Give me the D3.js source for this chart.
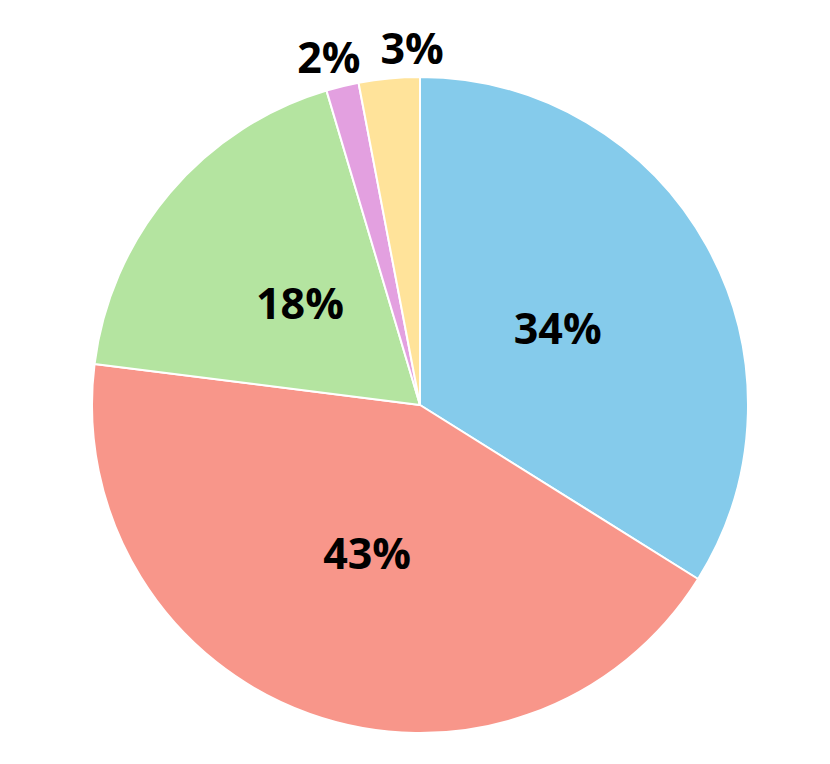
<!DOCTYPE html>
<html>
<head>
<meta charset="utf-8">
<script src="https://cdn.jsdelivr.net/npm/d3@7"></script>
<style>
  body { margin: 0; background: #fff; }
</style>
</head>
<body>
<div class="chart"></div>
<script>
// slices, clockwise from 12 o'clock
const categories = ["Slice A", "Slice B", "Slice C", "Slice D", "Slice E"];
const values = [33.9, 43.1, 18.4, 1.6, 3.0];
const colors = ["#85cbeb", "#f8968a", "#b4e4a0", "#e3a0e0", "#ffe39a"];

const width = 830, height = 764;
const cx = 420, cy = 405, radius = 328;
const fontSize = 43;

const svg = d3.select(".chart").append("svg")
  .attr("width", width)
  .attr("height", height);

const g = svg.append("g").attr("transform", `translate(${cx},${cy})`);

const total = d3.sum(values);
const pie = d3.pie().sort(null).value(d => d);
const arcs = pie(values);
const arc = d3.arc().innerRadius(0).outerRadius(radius);
const labelArc = d3.arc().innerRadius(radius * 0.48).outerRadius(radius * 0.48);
const fmt = d3.format(".0%");

g.selectAll("path.slice").data(arcs).join("path")
  .attr("class", "slice")
  .attr("d", arc)
  .attr("fill", (d, i) => colors[i])
  .attr("stroke", "#fff")
  .attr("stroke-width", 2)
  .attr("stroke-linejoin", "round");

const labels = g.selectAll("text.lbl").data(arcs).join("text")
  .attr("class", "lbl")
  .attr("text-anchor", "middle")
  .style("font-family", "'Open Sans', 'Noto Sans', sans-serif")
  .style("font-weight", 700)
  .style("font-size", fontSize + "px")
  .attr("fill", "#000")
  .text(d => fmt(d.value / total));

const capH = fontSize * 0.72;
const outside = [];
labels.each(function(d) {
  const bb = this.getBBox();
  const share = d.value / total;
  if (share >= 0.05) {
    d.pos = labelArc.centroid(d);
  } else {
    // small slices get their label outside the rim
    const mid = (d.startAngle + d.endAngle) / 2;
    const r = radius + 30;
    d.pos = [Math.sin(mid) * r, -Math.cos(mid) * r];
    outside.push({ pos: d.pos, w: bb.width });
  }
});

// spread outside labels that collide
outside.sort((a, b) => a.pos[0] - b.pos[0]);
for (let i = 1; i < outside.length; i++) {
  const prev = outside[i - 1], cur = outside[i];
  const need = prev.pos[0] + prev.w / 2 + 20 + cur.w / 2;
  if (cur.pos[0] < need) {
    const shift = need - cur.pos[0];
    prev.pos[0] -= shift * 0.2;
    cur.pos[0] += shift * 0.8;
  }
}

labels
  .attr("x", d => d.pos[0])
  .attr("y", d => d.pos[1] + capH / 2);
</script>
</body>
</html>
